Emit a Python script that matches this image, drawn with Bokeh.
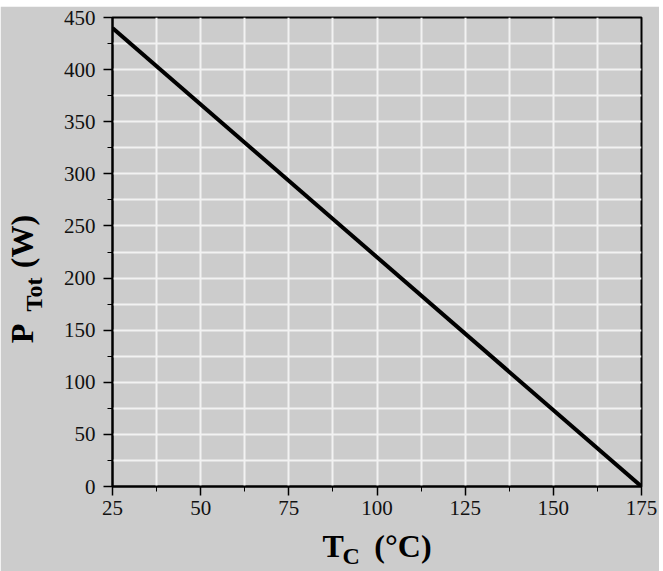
from bokeh.plotting import figure
from bokeh.models import FixedTicker, Range1d, LinearAxis
from bokeh.embed import file_html
from bokeh.resources import INLINE

# data
tc = [25, 175]
ptot = [440, 0]
x_major = [25, 50, 75, 100, 125, 150, 175]
x_minor = [37.5, 62.5, 87.5, 112.5, 137.5, 162.5]
y_major = [0, 50, 100, 150, 200, 250, 300, 350, 400, 450]
y_minor = [25, 75, 125, 175, 225, 275, 325, 375, 425]
x_title_main = {332: "T", 402: "(°C)"}
x_title_sub = {350: "C"}
y_title_main = {333: "P", 241: "(W)"}
y_title_sub = {294: "Tot"}

BG = "#cccccc"
OX, OY = 0, 6
W, H = 659, 565
FL, FR, FT, FB = 111, 641, 17, 486   # frame edges in page pixels

p = figure(width=W, height=H, output_backend="svg", toolbar_location=None,
           x_range=Range1d(25, 175), y_range=Range1d(0, 450),
           min_border_left=FL - OX, min_border_right=W + OX - FR,
           min_border_top=FT - OY, min_border_bottom=H + OY - FB)
p.margin = (OY, 0, 0, OX)
p.background_fill_color = BG
p.border_fill_color = BG
p.outline_line_color = "black"
p.outline_line_width = 2

F = "Liberation Serif"
for ax, maj, mnr in ((p.xaxis[0], x_major, x_minor), (p.yaxis[0], y_major, y_minor)):
    ax.ticker = FixedTicker(ticks=maj, minor_ticks=mnr)
    ax.axis_line_color = "black"
    ax.axis_line_width = 2
    ax.major_tick_line_color = "black"
    ax.major_tick_line_width = 1.5
    ax.minor_tick_line_color = "black"
    ax.minor_tick_line_width = 1
    ax.major_tick_out = 9
    ax.major_tick_in = 0
    ax.minor_tick_out = 5
    ax.minor_tick_in = 0
    ax.major_label_text_font = F
    ax.major_label_text_font_size = "21px"
    ax.major_label_text_color = "#111111"
    ax.axis_label = None
p.xaxis.major_label_standoff = 5
p.yaxis.major_label_standoff = 8

for g in (p.xgrid[0], p.ygrid[0]):
    g.grid_line_color = "#f2f2f2"
    g.grid_line_width = 2
    g.minor_grid_line_color = "#f2f2f2"
    g.minor_grid_line_width = 2

p.line(tc, ptot, line_color="black", line_width=4)

# axis titles, drawn as labels of extra axes on pixel-like ranges
p.extra_x_ranges = {"tx": Range1d(FL, FR)}
p.extra_y_ranges = {"ty": Range1d(FB, FT)}

def title_axis(labels, size, standoff, side, orient=None):
    kw = {"x_range_name": "tx"} if side == "below" else {"y_range_name": "ty"}
    ax = LinearAxis(**kw)
    ax.ticker = FixedTicker(ticks=list(labels.keys()))
    ax.major_label_overrides = {k: v for k, v in labels.items()}
    ax.axis_line_color = None
    ax.major_tick_line_color = None
    ax.minor_tick_line_color = None
    ax.major_tick_out = 0
    ax.major_tick_in = 0
    ax.minor_tick_out = 0
    ax.minor_tick_in = 0
    ax.major_label_text_font = F
    ax.major_label_text_font_style = "bold"
    ax.major_label_text_font_size = size
    ax.major_label_text_color = "black"
    ax.major_label_standoff = standoff
    if orient:
        ax.major_label_orientation = orient
    p.add_layout(ax, side)

title_axis(x_title_main, "32px", 10, "below")
title_axis(x_title_sub, "24px", -24, "below")
title_axis(y_title_sub, "24px", 14, "left", "vertical")
title_axis(y_title_main, "32px", -22, "left", "vertical")

open("out.html", "w").write(file_html(p, INLINE))
